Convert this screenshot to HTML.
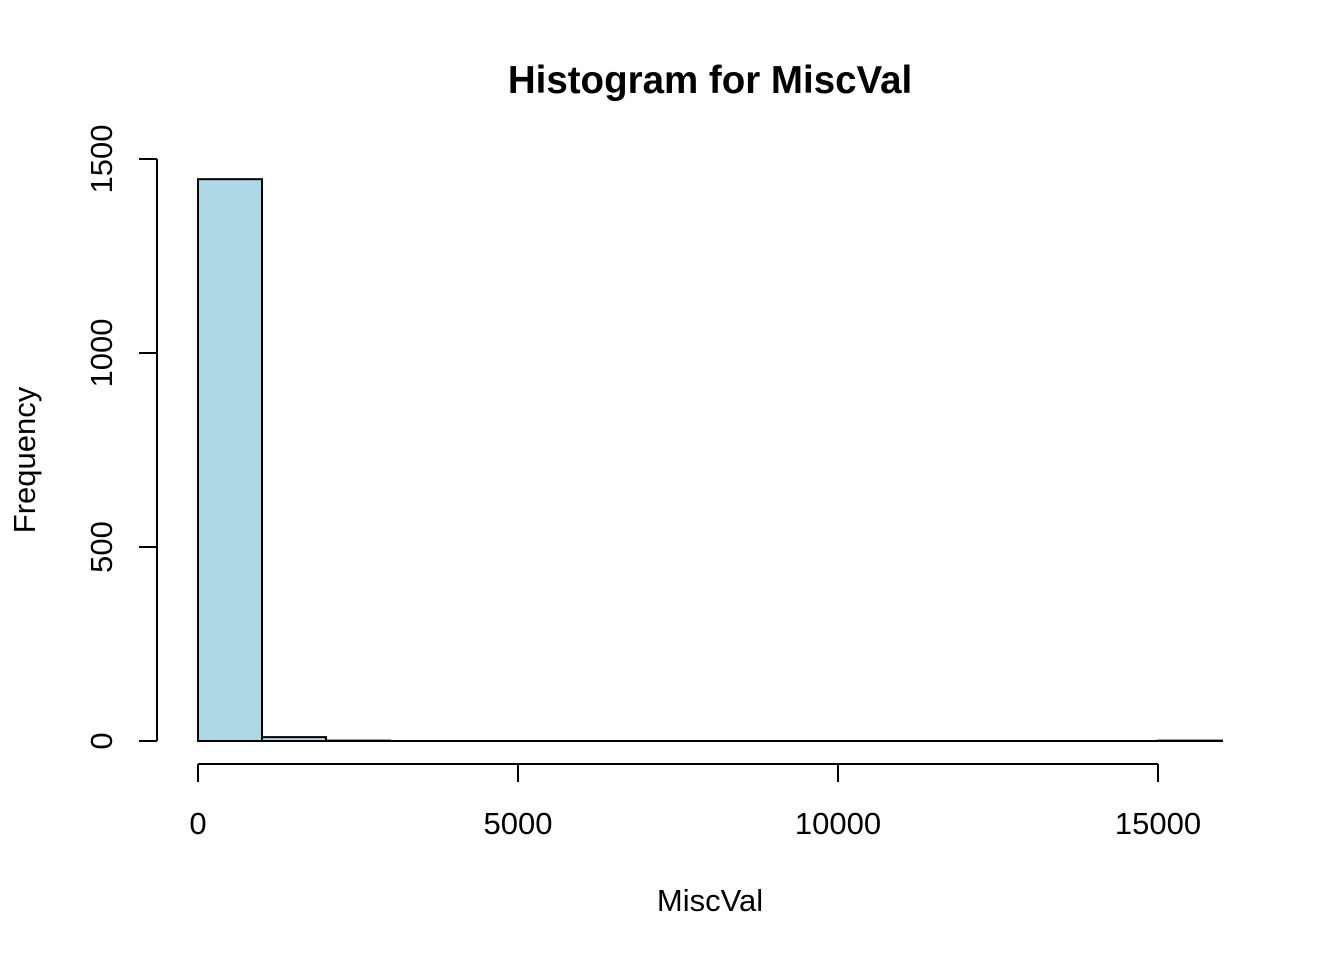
<!DOCTYPE html>
<html><head><style>body{margin:0;background:#fff}svg{display:block}text{font-family:"Liberation Sans",Arial,sans-serif}</style></head>
<body>
<svg id="chart" width="1344" height="960">
<text x="710" y="93" text-anchor="middle" font-size="38.5" font-weight="bold">Histogram for MiscVal</text>
<text x="710" y="911" text-anchor="middle" font-size="31">MiscVal</text>
<text transform="translate(35,460) rotate(-90)" text-anchor="middle" font-size="31">Frequency</text>
<g id="bars"></g><g id="axes"></g>
</svg>
<script>
const binStarts=[0,1000,2000,3000,4000,5000,6000,7000,8000,9000,10000,11000,12000,13000,14000,15000];
const counts=[1448,10,1,0,0,0,0,0,0,0,0,0,0,0,0,1];
const xTicks=[0,5000,10000,15000];
const yTicks=[0,500,1000,1500];
const binWidth=1000;
const NS="http://www.w3.org/2000/svg";
const X=v=>198+v*0.064, Y=v=>741-v*0.388;
function mk(t,a,p){const e=document.createElementNS(NS,t);for(const k in a)e.setAttribute(k,a[k]);p.appendChild(e);return e;}
const bars=document.getElementById('bars'),axes=document.getElementById('axes');
binStarts.forEach((b,i)=>{const y=Y(counts[i]);
const r=mk('rect',{x:X(b),y:y,width:X(b+binWidth)-X(b),height:Math.max(741-y,0.01),fill:'#add8e6',stroke:'#000','stroke-width':2},bars);

});
const bl=mk('line',{x1:X(binStarts[0]),x2:X(binStarts[binStarts.length-1]+binWidth),y1:741,y2:741,stroke:'#000','stroke-width':2},bars);


const xa=mk('line',{x1:X(xTicks[0]),x2:X(xTicks[xTicks.length-1]),y1:764,y2:764,stroke:'#000','stroke-width':2},axes);


xTicks.forEach(t=>{mk('line',{x1:X(t),x2:X(t),y1:764,y2:782,stroke:'#000','stroke-width':2},axes);
const tx=mk('text',{x:X(t),y:834,'text-anchor':'middle','font-size':31},axes);tx.textContent=t;

});
const ya=mk('line',{x1:157,x2:157,y1:Y(yTicks[0]),y2:Y(yTicks[yTicks.length-1]),stroke:'#000','stroke-width':2},axes);


yTicks.forEach(t=>{mk('line',{x1:139,x2:157,y1:Y(t),y2:Y(t),stroke:'#000','stroke-width':2},axes);
const tx=mk('text',{transform:`translate(112,${Y(t)}) rotate(-90)`,'text-anchor':'middle','font-size':31},axes);tx.textContent=t;

});
</script>
</body></html>
